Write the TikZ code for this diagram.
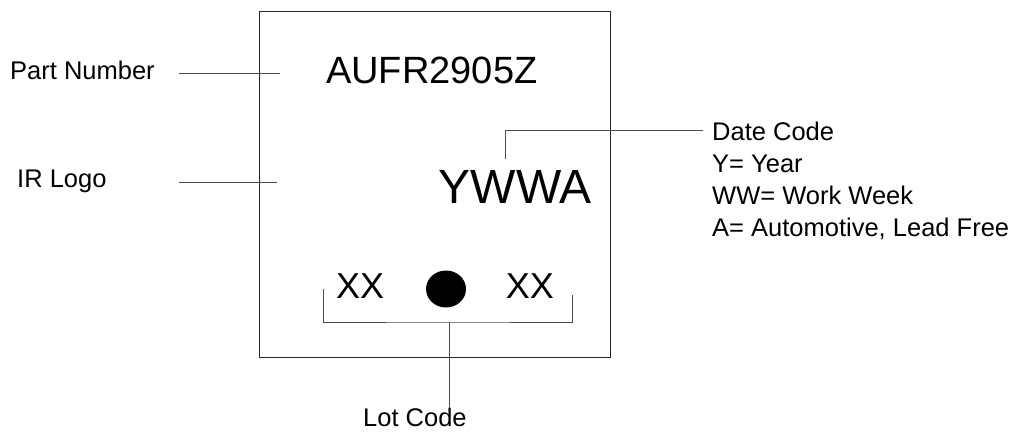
\documentclass[tikz,border=0pt]{standalone}
\usepackage{fontspec}
\setmainfont{Liberation Sans}
\usetikzlibrary{positioning,shapes.geometric}

\begin{document}
\begin{tikzpicture}[
    x=1pt, y=-1pt,
    marklabel/.style={inner sep=0pt, font=\fontsize{25.5}{32}\selectfont},
    markcode/.style={inner sep=0pt, font=\fontsize{#1}{#1}\selectfont},
    leader/.style={draw=black!70, line width=0.9pt},
    pkgbox/.style={draw=black!85, line width=1pt}
  ]
    \useasboundingbox (0,0) rectangle (1016,431);
    % package outline
    \node[pkgbox, minimum width=351pt, minimum height=346pt, anchor=north west] (pkg) at (259,11) {};
    % marking on the package
    \node[markcode=38, anchor=base west] (partno) at (326,83) {AUFR2905Z};
    \node[markcode=48, anchor=base east] (ywwa) at (592,203) {YWWA};
    \node[markcode=36, anchor=base west] (lotl) at (336,298) {XX};
    \node[markcode=36, anchor=base east] (lotr) at (554,298) {XX};
    \node[ellipse, fill=black, minimum width=40pt, minimum height=37pt, inner sep=0pt] (dot) at (446,289) {};
    % labels
    \node[marklabel, anchor=base west] (pn) at (10,79) {Part Number};
    \node[marklabel, anchor=base west] (logo) at (17,187) {IR Logo};
    \node[marklabel, anchor=north west, align=left] (date) at (712,122) {Date Code\\Y= Year\\WW= Work Week\\A= Automotive, Lead Free};
    \node[marklabel, anchor=base west] (lot) at (363,426) {Lot Code};
    % leader lines
    \coordinate (pnend) at (280,73);
    \coordinate (logoend) at (277,182);
    \coordinate (ytick) at (505,159);
    \coordinate (datetip) at (703,130);
    \coordinate (brl) at (323,289);
    \coordinate (brr) at (572,295);
    \coordinate (brmid) at (449,322);
    \draw[leader] ([xshift=24pt]pn.east |- pnend) -- (pnend);
    \draw[leader] (logoend -| 179,0) -- (logoend);
    \draw[leader] (ytick) |- (datetip);
    \draw[leader] (brl) |- (brmid) -| (brr);
    \draw[leader] (brmid) -- (brmid |- lot.north);
  \end{tikzpicture}
\end{document}
